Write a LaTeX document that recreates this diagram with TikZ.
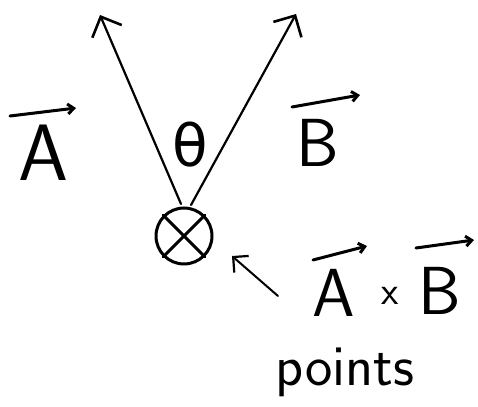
\documentclass[tikz,border=0pt]{standalone}
\usepackage{fontspec}
\newfontfamily\grk{DejaVu Sans}
\usetikzlibrary{arrows.meta}
\begin{document}
\begin{tikzpicture}[x=1pt,y=-1pt,line cap=round,
  vec/.style={line width=2.2pt,-{Straight Barb[length=16pt,width=32pt,line width=2.6pt]}},
  ovr/.style={line width=3pt,-{Straight Barb[length=6pt,width=10pt,line width=3pt]}},
  big/.style={inner sep=0pt,font=\fontsize{80}{80}\selectfont\sffamily},
  mid/.style={inner sep=0pt,font=\fontsize{68}{68}\selectfont\sffamily},
  word/.style={inner sep=0pt,font=\fontsize{58}{58}\selectfont\sffamily}]
\useasboundingbox (0,0) rectangle (478,406);
\node[circle,draw,line width=3pt,minimum size=56pt,inner sep=0pt] (c) at (184,236) {};
\draw[line width=3pt] (c.north west) -- (c.south east);
\draw[line width=3pt] (c.north east) -- (c.south west);
\coordinate (oa) at (181,204);
\coordinate (ob) at (191,205);
\coordinate (ta) at (100,15);
\coordinate (tb) at (296,14);
\draw[vec] (oa) -- (ta);
\draw[vec] (ob) -- (tb);
% labels
\node[big,anchor=base] (la) at (43,180) {A};
\coordinate (la1) at (10,116);
\coordinate (la2) at (76,108);
\draw[ovr] (la1) -- (la2);
\node[mid,anchor=base] (lb) at (318,166) {B};
\coordinate (lb1) at (292,107);
\coordinate (lb2) at (360,95);
\draw[ovr] (lb1) -- (lb2);
\node[inner sep=0pt,font=\fontsize{58}{58}\selectfont\grk,anchor=base] (th) at (190,166) {θ};
\node[mid,anchor=base] (ab1) at (334,316) {A};
\node[inner sep=0pt,font=\fontsize{40}{40}\selectfont\sffamily,anchor=base] (x) at (390,304) {x};
\node[mid,anchor=base] (ab2) at (440,314) {B};
\coordinate (aa1) at (313,260);
\coordinate (aa2) at (367,246);
\draw[ovr] (aa1) -- (aa2);
\coordinate (bb1) at (416,248);
\coordinate (bb2) at (474,240);
\draw[ovr] (bb1) -- (bb2);
\node[word,anchor=base] (pts) at (345,385) {points};
\coordinate (ps) at (278,296);
\coordinate (pe) at (232,256);
\draw[line width=2pt,-{Straight Barb[length=11pt,width=22pt,line width=2.2pt]}] (ps) -- (pe);
\end{tikzpicture}
\end{document}
